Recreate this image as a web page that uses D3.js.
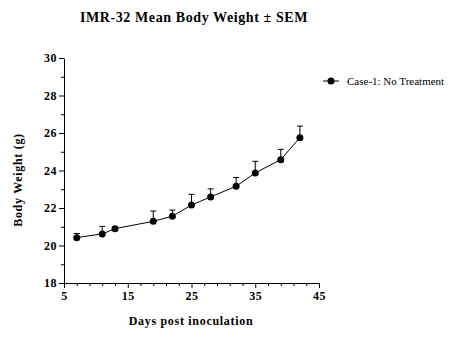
<!DOCTYPE html>
<html>
<head>
<meta charset="utf-8">
<script src="https://cdn.jsdelivr.net/npm/d3@7"></script>
<style>
  body { margin: 0; background: #fff; }
  svg text { font-family: "Liberation Serif", "Times New Roman", serif; fill: #000; }
</style>
</head>
<body>
<div id="chart"></div>
<script>
// data
var days = [7, 11, 13, 19, 22, 25, 28, 32, 35, 39, 42];
var weights = [20.42, 20.62, 20.9, 21.29, 21.56, 22.16, 22.59, 23.16, 23.87, 24.58, 25.75];
var sem = [0.22, 0.4, 0.08, 0.55, 0.33, 0.57, 0.43, 0.47, 0.62, 0.55, 0.62];
var xTicks = [5, 15, 25, 35, 45];
var yTicks = [18, 20, 22, 24, 26, 28, 30];
var seriesName = "Case-1: No Treatment";

var W = 458, H = 354;
var svg = d3.select("#chart").append("svg")
    .attr("width", W)
    .attr("height", H);

var x = d3.scaleLinear().domain([5, 45]).range([64, 319]);
var y = d3.scaleLinear().domain([18, 30]).range([283, 58]);

// title
svg.append("text")
    .attr("x", 194).attr("y", 22)
    .attr("text-anchor", "middle")
    .attr("font-weight", "bold")
    .attr("font-size", "14px")
    .attr("letter-spacing", "0.6px")
    .text("IMR-32 Mean Body Weight \u00b1 SEM");

// minor ticks first (no labels)
var xMinor = d3.range(5, 45.1, 2).filter(function(d) { return xTicks.indexOf(d) < 0; });
var yMinor = d3.range(19, 30, 2);

svg.append("g")
    .attr("transform", "translate(0,283)")
    .call(d3.axisBottom(x).tickValues(xMinor).tickSize(3).tickFormat(""))
    .call(function(g) { g.select(".domain").remove(); });

svg.append("g")
    .attr("transform", "translate(64,0)")
    .call(d3.axisLeft(y).tickValues(yMinor).tickSize(3).tickFormat(""))
    .call(function(g) { g.select(".domain").remove(); });

// main axes
var xAxis = svg.append("g")
    .attr("transform", "translate(0,283)")
    .call(d3.axisBottom(x).tickValues(xTicks).tickSize(5).tickSizeOuter(0).tickPadding(3));

var yAxis = svg.append("g")
    .attr("transform", "translate(64,0)")
    .call(d3.axisLeft(y).tickValues(yTicks).tickSize(5).tickSizeOuter(0).tickPadding(2));

svg.selectAll(".domain, .tick line")
    .attr("stroke", "#000")
    .attr("stroke-width", 1);

[xAxis, yAxis].forEach(function(a) {
    a.selectAll("text")
        .attr("font-family", "Liberation Serif")
        .attr("font-weight", "bold")
        .attr("font-size", "12px")
        .attr("letter-spacing", "0.5px")
        .attr("fill", "#000");
});

// axis titles
svg.append("text")
    .attr("x", 191).attr("y", 325)
    .attr("text-anchor", "middle")
    .attr("font-weight", "bold")
    .attr("font-size", "12px")
    .attr("letter-spacing", "0.7px")
    .text("Days post inoculation");

svg.append("text")
    .attr("transform", "translate(22,180) rotate(-90)")
    .attr("text-anchor", "middle")
    .attr("font-weight", "bold")
    .attr("font-size", "12px")
    .attr("letter-spacing", "0.7px")
    .text("Body Weight (g)");

var data = days.map(function(d, i) {
    return {day: d, w: weights[i], sem: sem[i]};
});

// error bars (upper only)
var err = svg.append("g").attr("class", "errors");
err.selectAll("line.bar")
    .data(data).enter().append("line")
    .attr("class", "bar")
    .attr("x1", function(d) { return x(d.day); })
    .attr("x2", function(d) { return x(d.day); })
    .attr("y1", function(d) { return y(d.w); })
    .attr("y2", function(d) { return y(d.w + d.sem); })
    .attr("stroke", "#000");
err.selectAll("line.cap")
    .data(data).enter().append("line")
    .attr("class", "cap")
    .attr("x1", function(d) { return x(d.day) - 3; })
    .attr("x2", function(d) { return x(d.day) + 3; })
    .attr("y1", function(d) { return y(d.w + d.sem); })
    .attr("y2", function(d) { return y(d.w + d.sem); })
    .attr("stroke", "#000");

// line
var line = d3.line()
    .x(function(d) { return x(d.day); })
    .y(function(d) { return y(d.w); });

svg.append("path")
    .datum(data)
    .attr("d", line)
    .attr("fill", "none")
    .attr("stroke", "#000")
    .attr("stroke-width", 1);

svg.selectAll("circle.pt")
    .data(data).enter().append("circle")
    .attr("class", "pt")
    .attr("cx", function(d) { return x(d.day); })
    .attr("cy", function(d) { return y(d.w); })
    .attr("r", 3.5)
    .attr("fill", "#000");

// legend
var lg = svg.append("g").attr("transform", "translate(323,81)");
lg.append("line")
    .attr("x1", 0).attr("x2", 16)
    .attr("stroke", "#000");
lg.append("circle")
    .attr("cx", 8).attr("r", 3.5)
    .attr("fill", "#000");
lg.append("text")
    .attr("x", 24).attr("y", 4)
    .attr("font-size", "11px")
    .text(seriesName);
</script>
</body>
</html>
